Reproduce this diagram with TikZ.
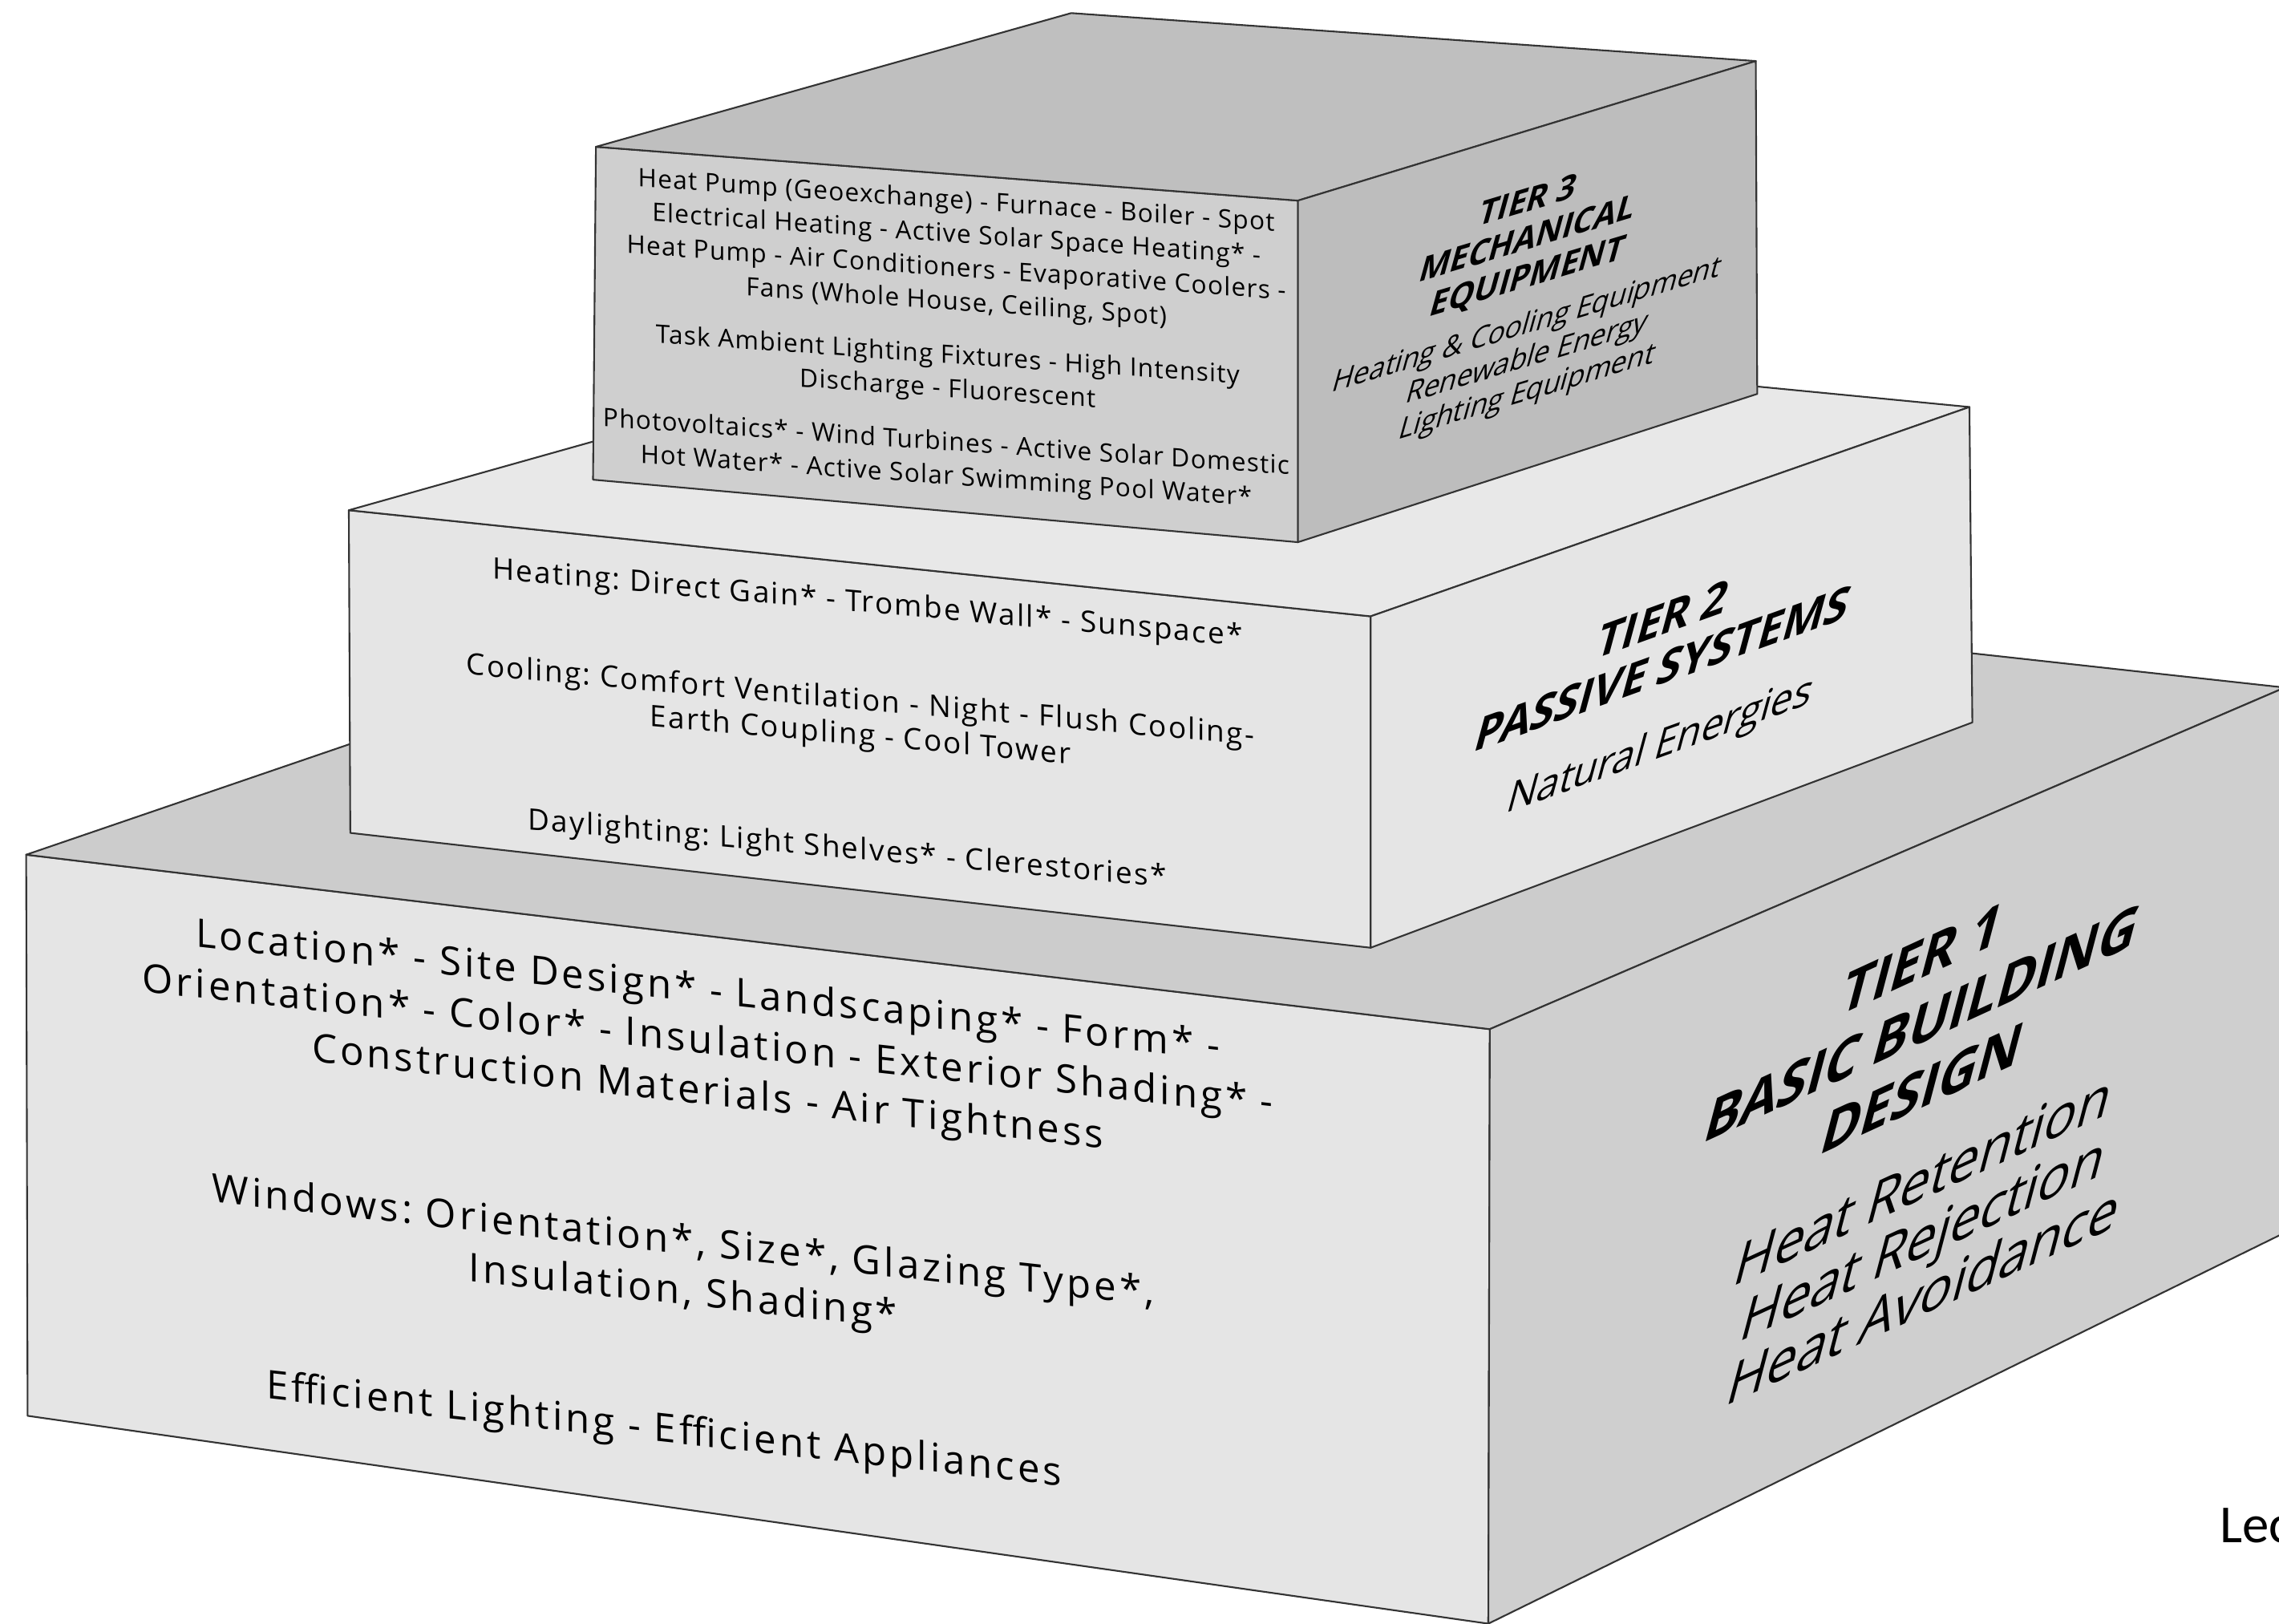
\documentclass[tikz,border=0pt]{standalone}
\usepackage{fontspec}
\setmainfont{Open Sans}
\newfontfamily\sidefont[FakeSlant=0.3]{Open Sans}
\newfontfamily\notefont{Carlito}
\frenchspacing

\begin{document}
\begin{tikzpicture}
        [
            x = 0.018125cm, y = -0.018125cm,
            face/.style = {draw = black!80, line width = 0.6pt, line join = round},
            tier1 text/.style = {align = center, inner sep = 0pt, yslant = -0.11, font = \addfontfeatures{LetterSpace=8}\fontsize{14}{18}\selectfont},
            tier2 text/.style = {align = center, inner sep = 0pt, yslant = -0.09, font = \addfontfeatures{LetterSpace=6}\fontsize{10.5}{12.5}\selectfont},
            tier3 text/.style = {align = center, inner sep = 0pt, yslant = -0.07, font = \addfontfeatures{LetterSpace=4}\fontsize{9}{12}\selectfont},
            side/.style = {align = center, inner sep = 0pt}
        ]
            \useasboundingbox [fill = white] (0,0) rectangle (1568,1116.7);
            % tier 1
            \coordinate (t1a) at (18,588);
            \coordinate (t1b) at (1025,708);
            \coordinate (t1c) at (1024,1117);
            \coordinate (t1d) at (19,974);
            \coordinate (t1e) at (650,372);
            \coordinate (t1f) at (1572,473);
            \coordinate (t1g) at (1572,848);
            \filldraw [face, fill = black!10] (t1a) -- (t1b) -- (t1c) -- (t1d) -- cycle;
            \filldraw [face, fill = black!20] (t1a) -- (t1e) -- (t1f) -- (t1b) -- cycle;
            \filldraw [face, fill = black!19] (t1b) -- (t1f) -- (t1g) -- (t1c) -- cycle;
            % tier 2
            \coordinate (t2a) at (240,351);
            \coordinate (t2b) at (943,424);
            \coordinate (t2c) at (943,652);
            \coordinate (t2d) at (241,573);
            \coordinate (t2e) at (713,218);
            \coordinate (t2f) at (1355,280);
            \coordinate (t2g) at (1357,497);
            \filldraw [face, fill = black!10] (t2a) -- (t2b) -- (t2c) -- (t2d) -- cycle;
            \filldraw [face, fill = black!9] (t2a) -- (t2e) -- (t2f) -- (t2b) -- cycle;
            \filldraw [face, fill = black!10] (t2b) -- (t2f) -- (t2g) -- (t2c) -- cycle;
            % tier 3
            \coordinate (t3a) at (410,101);
            \coordinate (t3b) at (893,138);
            \coordinate (t3c) at (893,373);
            \coordinate (t3d) at (408,330);
            \coordinate (t3e) at (737,9);
            \coordinate (t3f) at (1208,42);
            \coordinate (t3g) at (1209,271);
            \filldraw [face, fill = black!19] (t3a) -- (t3b) -- (t3c) -- (t3d) -- cycle;
            \filldraw [face, fill = black!25] (t3a) -- (t3e) -- (t3f) -- (t3b) -- cycle;
            \filldraw [face, fill = black!26] (t3b) -- (t3f) -- (t3g) -- (t3c) -- cycle;

            \node [tier1 text] (siting) at (487,718) {Location* - Site Design* - Landscaping* - Form* -\\Orientation* - Color* - Insulation - Exterior Shading* -\\Construction Materials - Air Tightness};
            \node [tier1 text] (windows) at (470,873) {Windows: Orientation*, Size*, Glazing Type*,\\Insulation, Shading*};
            \node [tier1 text] (appliances) at (457,985) {Efficient Lighting - Efficient Appliances};
            \node [side, yslant = 0.46, font = \sidefont\bfseries\fontsize{19}{23}\selectfont] (tier1) at (1319,706) {TIER 1\\BASIC BUILDING\\DESIGN};
            \node [side, yslant = 0.46, font = \sidefont\fontsize{19}{20.6}\selectfont] (heat) at (1320,853) {Heat Retention\\Heat Rejection\\Heat Avoidance};

            \node [tier2 text] (heating) at (597,416) {Heating: Direct Gain* - Trombe Wall* - Sunspace*};
            \node [tier2 text] (cooling) at (592,495) {Cooling: Comfort Ventilation - Night - Flush Cooling-\\Earth Coupling - Cool Tower};
            \node [tier2 text] (daylighting) at (583,585) {Daylighting: Light Shelves* - Clerestories*};
            \node [side, yslant = 0.36, font = \sidefont\bfseries\fontsize{15.5}{17.5}\selectfont] (tier2) at (1141,444) {TIER 2\\PASSIVE SYSTEMS};
            \node [side, yslant = 0.36, font = \sidefont\fontsize{14}{17}\selectfont] (natural) at (1140,515) {Natural Energies};

            \node [tier3 text] (hvac) at (658,174) {Heat Pump (Geoexchange) - Furnace - Boiler - Spot\\Electrical Heating - Active Solar Space Heating* -\\Heat Pump - Air Conditioners - Evaporative Coolers -\\Fans (Whole House, Ceiling, Spot)};
            \node [tier3 text] (lighting) at (652,257) {Task Ambient Lighting Fixtures - High Intensity\\Discharge - Fluorescent};
            \node [tier3 text] (renewables) at (651,317) {Photovoltaics* - Wind Turbines - Active Solar Domestic\\Hot Water* - Active Solar Swimming Pool Water*};
            \node [side, yslant = 0.30, font = \sidefont\bfseries\fontsize{11.5}{13.4}\selectfont] (tier3) at (1049,166) {TIER 3\\MECHANICAL\\EQUIPMENT};
            \node [side, yslant = 0.30, font = \sidefont\fontsize{10}{11.9}\selectfont] (equipment) at (1049,248) {Heating \& Cooling Equipment\\Renewable Energy\\Lighting Equipment};

            \node [anchor = base west, inner sep = 0pt, font = \notefont\fontsize{19}{22}\selectfont] (lec) at (1527,1061) {Lec};
        \end{tikzpicture}
\end{document}
